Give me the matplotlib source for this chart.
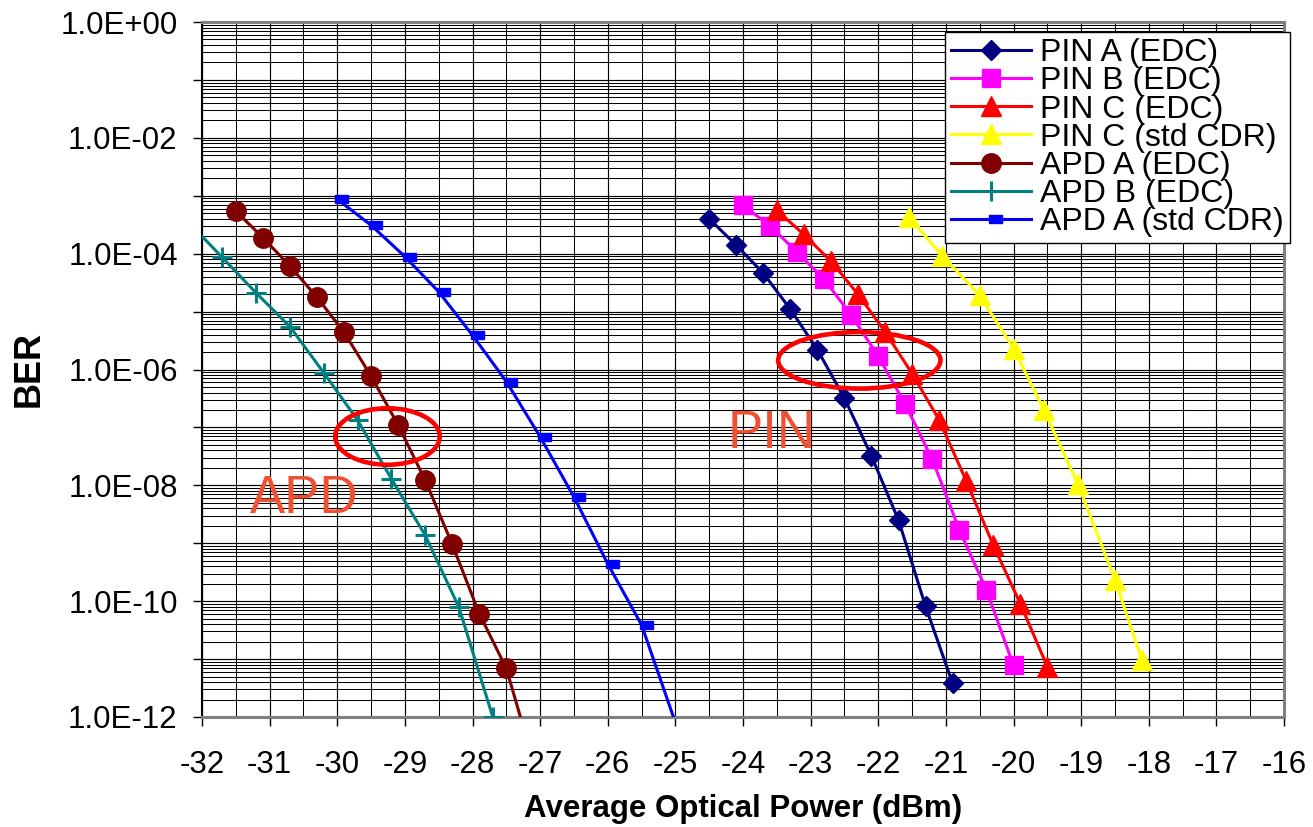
import matplotlib
matplotlib.use("Agg")
import matplotlib.pyplot as plt
from matplotlib.patches import Ellipse
from matplotlib.ticker import FixedLocator, FuncFormatter, MultipleLocator, LogLocator, NullFormatter
import numpy as np

plt.rcParams['font.family'] = ['Liberation Sans', 'DejaVu Sans']

# ---- data ----
pinA_x = [-24.5, -24.1, -23.7, -23.3, -22.9, -22.5, -22.1, -21.7, -21.3, -20.9]
pinA_y = [4.0e-4, 1.4e-4, 4.6e-5, 1.1e-5, 2.2e-6, 3.2e-7, 3.2e-8, 2.5e-9, 8.1e-11, 3.8e-12]

pinB_x = [-24.0, -23.6, -23.2, -22.8, -22.4, -22.0, -21.6, -21.2, -20.8, -20.4, -20.0]
pinB_y = [6.9e-4, 3.0e-4, 1.07e-4, 3.6e-5, 8.7e-6, 1.7e-6, 2.5e-7, 2.8e-8, 1.7e-9, 1.55e-10, 7.8e-12]

pinC_x = [-23.5, -23.1, -22.7, -22.3, -21.9, -21.5, -21.1, -20.7, -20.3, -19.9, -19.5]
pinC_y = [5.6e-4, 2.15e-4, 7.4e-5, 2.0e-5, 4.5e-6, 8.5e-7, 1.35e-7, 1.2e-8, 9.3e-10, 9.1e-11, 7.4e-12]

pinCstd_x = [-21.55, -21.05, -20.5, -20.0, -19.55, -19.05, -18.5, -18.1]
pinCstd_y = [4.3e-4, 9.1e-5, 1.9e-5, 2.3e-6, 2.0e-7, 1.07e-8, 2.35e-10, 9.6e-12]

apdA_x = [-31.5, -31.1, -30.7, -30.3, -29.9, -29.5, -29.1, -28.7, -28.3, -27.9, -27.5, -27.1]
apdA_y = [5.4e-4, 1.9e-4, 6.1e-5, 1.77e-5, 4.4e-6, 7.7e-7, 1.1e-7, 1.23e-8, 9.6e-10, 6.1e-11, 6.9e-12, 1.7e-13]

apdB_x = [-32.2, -31.7, -31.2, -30.7, -30.2, -29.7, -29.2, -28.7, -28.2, -27.7]
apdB_y = [3.5e-4, 8.6e-5, 2.1e-5, 5.5e-6, 8.8e-7, 1.34e-7, 1.3e-8, 1.38e-9, 7.8e-11, 1.0e-12]

apdAstd_x = [-30.0, -29.5, -29.0, -28.5, -28.0, -27.5, -27.0, -26.5, -26.0, -25.5, -25.0]
apdAstd_y = [8.7e-4, 3.1e-4, 8.9e-5, 2.2e-5, 3.9e-6, 6.2e-7, 6.9e-8, 6.3e-9, 4.4e-10, 3.9e-11, 8.0e-13]

labels = ["PIN A (EDC)", "PIN B (EDC)", "PIN C (EDC)", "PIN C (std CDR)",
          "APD A (EDC)", "APD B (EDC)", "APD A (std CDR)"]
colors = ["#000080", "#FF00FF", "#FF0000", "#FFFF00", "#800000", "#008080", "#0000FF"]

x_ticks = list(range(-32, -15))
y_label_exps = [0, -2, -4, -6, -8, -10, -12]

# ---- figure ----
fig = plt.figure(figsize=(13.13, 8.27), dpi=100)
ax = fig.add_axes([202/1313, 1 - 717/827, 1082/1313, 695/827])

dash_marker = [(-0.3, -0.6), (1.7, -0.6), (1.7, 0.6), (-0.3, 0.6), (-0.3, -0.6)]

series = [
    (pinA_x, pinA_y, dict(marker='D', ms=10.5)),
    (pinB_x, pinB_y, dict(marker='s', ms=13.5)),
    (pinC_x, pinC_y, dict(marker='^', ms=14)),
    (pinCstd_x, pinCstd_y, dict(marker='^', ms=14)),
    (apdA_x, apdA_y, dict(marker='o', ms=14)),
    (apdB_x, apdB_y, dict(marker='+', ms=14, mew=2.2)),
    (apdAstd_x, apdAstd_y, dict(marker=dash_marker, ms=16)),
]
for (xs, ys, mk), lab, col in zip(series, labels, colors):
    ax.plot(xs, ys, color=col, lw=2.2, label=lab, mfc=col, mec=col, zorder=3, **mk)

ax.set_yscale('log')
ax.set_xlim(-32, -16)
ax.set_ylim(1e-12, 1e0)

ax.xaxis.set_major_locator(FixedLocator(x_ticks))
ax.xaxis.set_minor_locator(MultipleLocator(0.5))
ax.set_xticklabels([str(t) for t in x_ticks])

ax.yaxis.set_major_locator(FixedLocator([10.0**e for e in range(0, -13, -1)]))
def yfmt(v, pos):
    e = int(round(np.log10(v)))
    if e in y_label_exps:
        return "1.0E%s%02d" % ('+' if e >= 0 else '-', abs(e))
    return ""
ax.yaxis.set_major_formatter(FuncFormatter(yfmt))
ax.yaxis.set_minor_locator(LogLocator(base=10, subs=np.arange(2, 10), numticks=100))
ax.yaxis.set_minor_formatter(NullFormatter())

ax.tick_params(axis='both', which='major', labelsize=22.5, direction='out', length=6.5, width=1, color='black')
ax.tick_params(axis='x', which='major', pad=17)
ax.tick_params(axis='y', which='major', pad=11)
ax.tick_params(which='minor', length=0)

ax.grid(which='major', color='black', lw=0.85, zorder=0)
ax.grid(which='minor', color='black', lw=0.75, zorder=0)
ax.set_axisbelow(True)

for s in ['top', 'right', 'bottom']:
    ax.spines[s].set_color('#808080')
    ax.spines[s].set_linewidth(2.2)
ax.spines['left'].set_color('black')
ax.spines['left'].set_linewidth(1.5)

ax.set_xlabel("Average Optical Power (dBm)", fontsize=22.5, fontweight='bold', labelpad=10)
ax.set_ylabel("BER", fontsize=26, fontweight='bold', labelpad=10)

# ellipses & annotations
ax.add_patch(Ellipse((0.1714, 0.4036), 0.0966, 0.0813, transform=ax.transAxes,
                     fill=False, edgecolor='#FF0000', lw=3.3, zorder=4))
ax.add_patch(Ellipse((0.6075, 0.5132), 0.150, 0.0813, transform=ax.transAxes,
                     fill=False, edgecolor='#FF0000', lw=3.3, zorder=4))
ax.text(250/1313, 1 - 512.7/827, "APD", transform=fig.transFigure, fontsize=38,
        color='#F05032', ha='left', va='baseline', zorder=5)
ax.text(728/1313, 1 - 448/827, "PIN", transform=fig.transFigure, fontsize=38,
        color='#F05032', ha='left', va='baseline', zorder=5)

leg = ax.legend(loc='upper right', bbox_to_anchor=(1290/1313, 1 - 32/827),
                bbox_transform=fig.transFigure, borderaxespad=0, fontsize=23,
                labelspacing=-0.06, handlelength=2.5, handletextpad=0.28,
                borderpad=0.2, fancybox=False, framealpha=1, edgecolor='black')
leg.get_frame().set_linewidth(1.0)
leg.set_zorder(10)

fig.savefig("out.png", dpi=100)
